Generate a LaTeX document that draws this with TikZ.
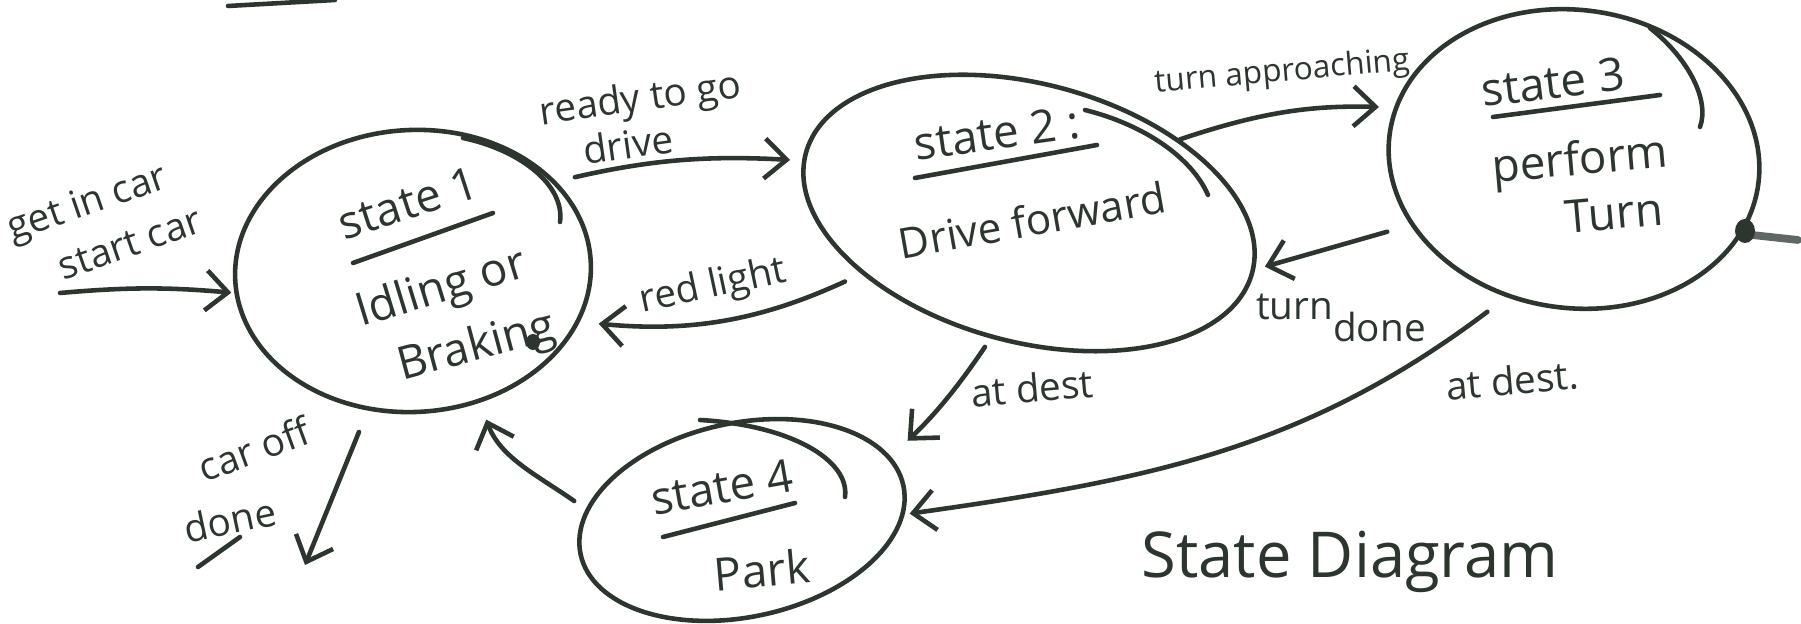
\documentclass[tikz,border=0pt]{standalone}
\usepackage{fontspec}
\setmainfont{Open Sans}
\usetikzlibrary{shapes.geometric,arrows.meta}
\definecolor{ink}{RGB}{44,54,47}
\begin{document}
\begin{tikzpicture}[x=0.1mm,y=-0.1mm,
  inkline/.style={draw=ink, line width=1.3pt, line cap=round, line join=round},
  statebox/.style={ellipse, inkline, inner sep=0pt},
  arr/.style={inkline, -{Straight Barb[length=2.2mm,width=4mm]}},
  lbl/.style={text=ink, font=\fontsize{11}{13}\selectfont, inner sep=0pt},
  stxt/.style={text=ink, font=\fontsize{13}{15}\selectfont, inner sep=0pt},
]
\fill[white] (0,0) rectangle (1801,624);
\useasboundingbox (0,0) rectangle (1801,624);

% states
\node[statebox, minimum width=35.6mm, minimum height=28.2mm, rotate=3] (s1) at (413,271) {};
\node[statebox, minimum width=46.2mm, minimum height=25.8mm, rotate=-15] (s2) at (1029,213) {};
\node[statebox, minimum width=37.2mm, minimum height=29.8mm, rotate=-8] (s3) at (1574,159) {};
\node[statebox, minimum width=33mm, minimum height=19.4mm, rotate=12] (s4) at (742,520) {};

% pen overlaps where each outline was closed
\draw[inkline] (463,138) .. controls (520,150) and (565,185) .. (560,222);
\draw[inkline] (1085,110) .. controls (1145,125) and (1192,158) .. (1208,195);
\draw[inkline] (1650,28) .. controls (1688,58) and (1710,100) .. (1700,127);
\draw[inkline] (700,420) .. controls (790,425) and (850,460) .. (845,497);
\draw[inkline] (228,6) -- (335,0);

% ink blots
\fill[ink] (533,342) ellipse (7 and 8);
\fill[ink] (1745,231) ellipse (10 and 12);
\draw[ink, line width=2.2pt, opacity=.75, line cap=round] (1752,235) -- (1798,240);

% state texts
\node[stxt, rotate=18] (t1a) at (408,203) {state 1};
\draw[inkline] (353,263) -- (493,213);
\node[stxt, rotate=17] (t1b) at (442,290) {Idling or};
\node[stxt, rotate=15] (t1c) at (477,348) {Braking};

\node[stxt, rotate=8] (t2a) at (997,133) {state 2 :};
\draw[inkline] (915,178) -- (1097,145);
\node[stxt, rotate=10, font=\fontsize{12}{14}\selectfont] (t2b) at (1032,220) {Drive forward};

\node[stxt, rotate=7] (t3a) at (1553,82) {state 3};
\draw[inkline] (1493,117) -- (1660,95);
\node[stxt, rotate=5] (t3b) at (1580,163) {perform};
\node[stxt, rotate=5] (t3c) at (1614,213) {Turn};

\node[stxt, rotate=10] (t4a) at (722,487) {state 4};
\draw[inkline] (663,537) -- (795,503);
\node[stxt, rotate=5] (t4b) at (762,570) {Park};

\node[text=ink, font=\fontsize{18}{20}\selectfont, inner sep=0pt] (title) at (1350,562) {State Diagram};

% transition labels
\node[lbl, rotate=19] (lin) at (88,205) {get in car};
\node[lbl, rotate=19] (lin2) at (130,244) {start car};
\node[lbl, rotate=8] (lready) at (641,101) {ready to go};
\node[lbl, rotate=8] (lready2) at (628,144) {drive};
\node[lbl, rotate=5, font=\fontsize{9}{11}\selectfont] (lturn) at (1282,73) {turn approaching};
\node[lbl, rotate=12] (lred) at (713,287) {red light};
\node[lbl] (ldone) at (1341,318) {turn\raisebox{-1.1ex}{done}};
\node[lbl, rotate=5] (ldest) at (1032,388) {at dest};
\node[lbl, rotate=5] (ldest2) at (1512,380) {at dest.};
\node[lbl, rotate=20] (loff) at (254,449) {car off};
\node[lbl, rotate=12] (ldn) at (230,520) {done};
\draw[inkline] (198,567) -- (240,537);

% transitions
\coordinate (entry) at (60,293);
\coordinate (offend) at (305,565);
\draw[arr, shorten >=0.3mm] (entry) to[bend left=5] (s1.184);
\draw[arr, shorten <=1.9mm, shorten >=1.2mm] (s1.29) to[bend left=8] (s2.182);
\draw[arr, shorten >=1.5mm] (s2.41) to[bend left=10] (s3.172);
\draw[arr, shorten <=1.8mm, shorten >=1.9mm] (s2.215) to[bend left=15] (s1.340);
\draw[arr, shorten <=2.4mm, shorten >=1mm] (s3.210) to (s2.1);
\draw[arr, shorten <=1mm, shorten >=2.3mm] (s2.268) to[bend left=6] (s4.11);
\draw[arr, shorten <=2.4mm, shorten >=0.5mm] (s3.252) to[out=217, in=8] (s4.350);
\draw[arr, shorten <=1.4mm, shorten >=1.8mm] (s4.164) to[out=145, in=-70] (s1.294);
\draw[arr, shorten <=2.3mm] (s1.249) to (offend);
\end{tikzpicture}
\end{document}
